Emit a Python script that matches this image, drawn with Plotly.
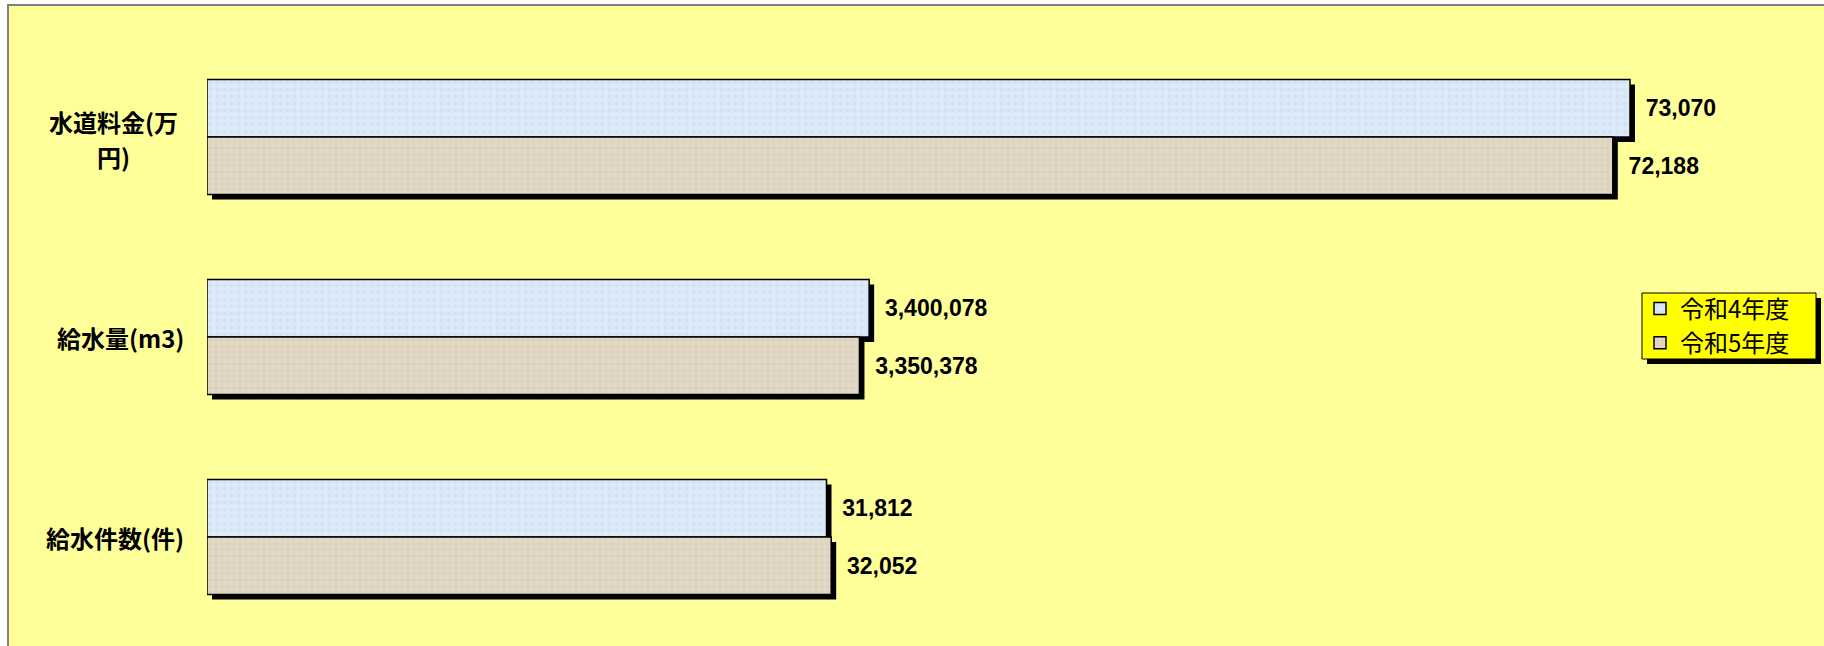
import plotly.graph_objects as go

# ---- data ----
categories = ["水道料金(万円)", "給水量(m3)", "給水件数(件)"]
category_label_lines = [["水道料金(万", "円)"], ["給水量(m3)"], ["給水件数(件)"]]
series_names = ["令和4年度", "令和5年度"]
values_r4 = [73070, 3400078, 31812]
values_r5 = [72188, 3350378, 32052]
# the source chart plots 給水量 in units of 100 m3 so that the bars are comparable
plot_divisor = [1, 100, 1]

# ---- layout constants ----
FIG_W, FIG_H = 1824, 646
L, T, B = 207, 37, 9
PLOT_H = FIG_H - T - B
PX_PER_UNIT = 1423 / 73070.0
PLOT_W = 1558
R = FIG_W - L - PLOT_W
XMAX = PLOT_W / PX_PER_UNIT
SHADOW = 5
dx = SHADOW / PX_PER_UNIT
dy = SHADOW / (PLOT_H / 3.0)

def px_x(px):
    return (px - L) / PLOT_W

def px_y(py):
    return 1 - (py - T) / PLOT_H

colors = ["#DCE9F8", "#E3D9C6"]
patterns = [
    dict(shape=".", fgcolor="#C8DAEE", size=7, solidity=0.25),
    dict(shape="+", fgcolor="#BFB39E", size=6, solidity=0.18),
]

num_font = dict(family="Liberation Sans, Noto Sans CJK JP", size=23, color="black", weight="bold")
cat_font = dict(family="Noto Sans CJK JP", size=24, color="black", weight="bold")

fig = go.Figure()
series = [values_r4, values_r5]

# shadows (base axes, shifted a few pixels right/down)
for name, vals in zip(series_names, series):
    fig.add_trace(go.Bar(
        y=categories, x=[v / d for v, d in zip(vals, plot_divisor)],
        orientation="h", name=name, showlegend=False, hoverinfo="skip",
        marker=dict(color="black", line=dict(width=0)),
        xaxis="x", yaxis="y",
    ))

# main bars (overlay axes)
for name, vals, col, pat in zip(series_names, series, colors, patterns):
    fig.add_trace(go.Bar(
        y=categories, x=[v / d for v, d in zip(vals, plot_divisor)],
        orientation="h", name=name,
        marker=dict(color=col, line=dict(color="black", width=1.5), pattern=pat),
        text=["\u00a0\u00a0" + f"{v:,}" for v in vals],
        textposition="outside", textfont=num_font, cliponaxis=False,
        xaxis="x2", yaxis="y2",
    ))

# legend box (drawn as shapes so its size matches the reference)
LEG_X0, LEG_X1, LEG_Y0, LEG_Y1 = 1642, 1816, 293, 359

axis_common = dict(showgrid=False, zeroline=False, showline=False, showticklabels=False, ticks="")
fig.update_layout(
    width=FIG_W, height=FIG_H,
    margin=dict(l=L, r=R, t=T, b=B, pad=0),
    paper_bgcolor="white", plot_bgcolor="rgba(0,0,0,0)",
    barmode="group", bargap=0.425, bargroupgap=0,
    xaxis=dict(range=[-dx, XMAX - dx], **axis_common),
    yaxis=dict(type="category", categoryorder="array", categoryarray=categories,
               range=[2.5 - dy, -0.5 - dy], **axis_common),
    xaxis2=dict(range=[0, XMAX], overlaying="x", **axis_common),
    yaxis2=dict(type="category", categoryorder="array", categoryarray=categories,
                range=[2.5, -0.5], overlaying="y", **axis_common),
    legend=dict(x=px_x(LEG_X0 - 2), y=px_y((LEG_Y0 + LEG_Y1) / 2), xanchor="left", yanchor="middle",
                bgcolor="rgba(0,0,0,0)", borderwidth=0,
                font=dict(family="Noto Sans CJK JP", size=24, color="black"),
                traceorder="normal", itemwidth=30, tracegroupgap=0),
    showlegend=True,
    shapes=[
        dict(type="rect", xref="paper", yref="paper", layer="below",
             x0=px_x(8), x1=px_x(1830), y0=px_y(5), y1=px_y(652),
             fillcolor="#FFFF99", line=dict(color="#808080", width=2)),
        dict(type="rect", xref="paper", yref="paper", layer="below",
             x0=px_x(LEG_X0 + SHADOW), x1=px_x(LEG_X1 + SHADOW),
             y0=px_y(LEG_Y0 + SHADOW), y1=px_y(LEG_Y1 + SHADOW),
             fillcolor="black", line=dict(width=0)),
        dict(type="rect", xref="paper", yref="paper", layer="below",
             x0=px_x(LEG_X0), x1=px_x(LEG_X1), y0=px_y(LEG_Y0), y1=px_y(LEG_Y1),
             fillcolor="#FFFF00", line=dict(color="black", width=1)),
    ],
)

for lines, cat in zip(category_label_lines, categories):
    if len(lines) == 1:
        fig.add_annotation(
            text=lines[0], xref="paper", yref="y2", x=px_x(186), y=cat,
            xanchor="right", yanchor="middle", showarrow=False, font=cat_font,
        )
    else:
        # two centred lines, 35 px apart, as in the reference
        for text, shift in zip(lines, [16, -19]):
            fig.add_annotation(
                text=text, xref="paper", yref="y2", x=px_x(113), y=cat, yshift=shift,
                xanchor="center", yanchor="middle", showarrow=False, font=cat_font,
            )

fig.write_html("out.html", config={"displayModeBar": False},
               post_script="document.body.style.margin='0';document.body.style.overflow='hidden';")
